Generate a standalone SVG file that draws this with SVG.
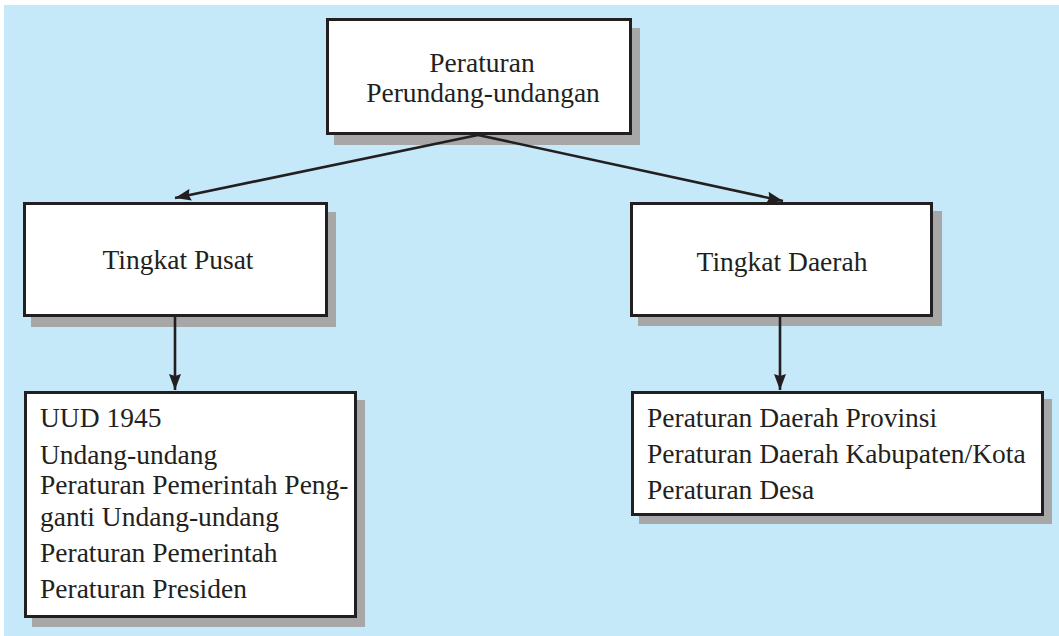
<svg xmlns="http://www.w3.org/2000/svg" width="1059" height="636" viewBox="0 0 1059 636">
  <defs>
    <marker id="arrow" viewBox="0 0 16 12" refX="16" refY="6" markerWidth="16" markerHeight="12" markerUnits="userSpaceOnUse" orient="auto">
      <path d="M0,0 L16,6 L0,12 L2,6 Z" fill="#231F20"/>
    </marker>
  </defs>
  <style>
    .shadow { fill: #A7A7A8; }
    .box { fill: #FFFFFF; stroke: #231F20; stroke-width: 3; }
    .label { font-family: "Liberation Serif", "Times New Roman", serif; font-size: 27.5px; fill: #231F20; }
    .mid { text-anchor: middle; }
    .link { stroke: #231F20; stroke-width: 2.6; fill: none; marker-end: url(#arrow); }
  </style>

  <!-- background panel -->
  <rect x="0" y="0" width="1059" height="636" fill="#FFFFFF"/>
  <rect x="4" y="5" width="1055" height="631" fill="#C5E9F8"/>

  <g id="root">
    <rect class="shadow" x="334" y="28" width="306" height="117"/>
    <rect class="box" x="327.5" y="19.5" width="303" height="114"/>
    <text class="label mid" x="482" y="72">Peraturan</text>
    <text class="label mid" x="483" y="102">Perundang-undangan</text>
  </g>

  <g id="pusat">
    <rect class="shadow" x="31" y="212" width="305" height="115"/>
    <rect class="box" x="24.5" y="203.5" width="302" height="112"/>
    <text class="label mid" x="178" y="269">Tingkat Pusat</text>
  </g>

  <g id="daerah">
    <rect class="shadow" x="638" y="211" width="304" height="115"/>
    <rect class="box" x="631.5" y="203.5" width="300" height="112"/>
    <text class="label mid" x="782" y="271">Tingkat Daerah</text>
  </g>

  <g id="pusat-list">
    <rect class="shadow" x="32" y="400" width="333" height="227"/>
    <rect class="box" x="25.5" y="392.5" width="330" height="224"/>
    <text class="label" x="40" y="427">UUD 1945</text>
    <text class="label" x="40" y="464">Undang-undang</text>
    <text class="label" x="40" y="494">Peraturan Pemerintah Peng-</text>
    <text class="label" x="40" y="526">ganti Undang-undang</text>
    <text class="label" x="40" y="562">Peraturan Pemerintah</text>
    <text class="label" x="40" y="598">Peraturan Presiden</text>
  </g>

  <g id="daerah-list">
    <rect class="shadow" x="639" y="399" width="413" height="125"/>
    <rect class="box" x="632.5" y="392.5" width="410" height="122"/>
    <text class="label" x="647" y="427">Peraturan Daerah Provinsi</text>
    <text class="label" x="647" y="463">Peraturan Daerah Kabupaten/Kota</text>
    <text class="label" x="647" y="499">Peraturan Desa</text>
  </g>

  <!-- connectors, drawn over the box shadows -->
  <g id="connectors">
    <line class="link" x1="478" y1="135" x2="175" y2="198"/>
    <line class="link" x1="478" y1="135" x2="783" y2="201"/>
    <line class="link" x1="175" y1="317" x2="175" y2="390"/>
    <line class="link" x1="780" y1="317" x2="780" y2="390"/>
  </g>
</svg>
